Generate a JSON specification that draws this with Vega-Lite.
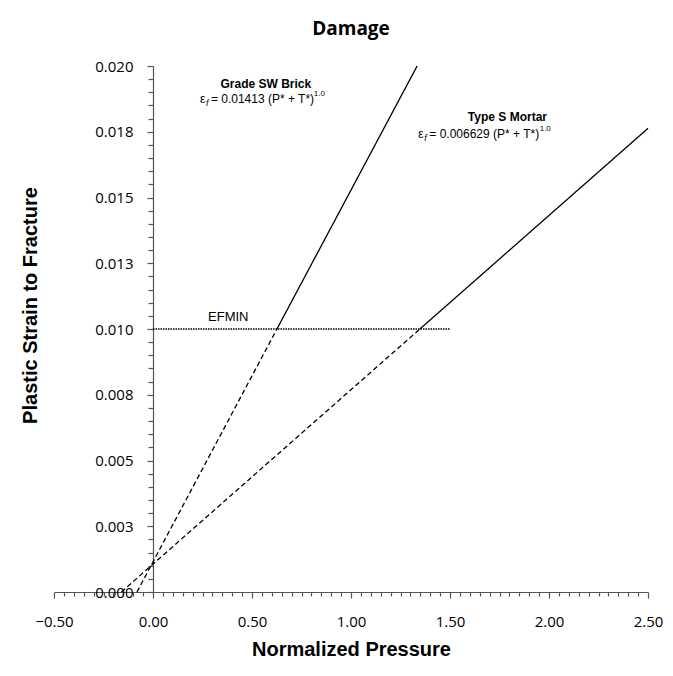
{
  "$schema": "https://vega.github.io/schema/vega-lite/v6.json",
  "width": 594,
  "height": 526,
  "autosize": {"type": "none"},
  "padding": {"left": 54, "top": 66, "right": 25, "bottom": 84},
  "background": "white",
  "config": {"view": {"stroke": null}, "font": "Liberation Sans"},
  "title": {"text": "Damage", "font": "Open Sans", "fontSize": 19, "fontWeight": "bold", "color": "black", "anchor": "middle", "offset": 20},
  "datasets": {
    "curves": [
      {"curve": "brick-ext", "segment": "extrapolated", "P": -0.081, "strain": 0},
      {"curve": "brick-ext", "segment": "extrapolated", "P": 0.626, "strain": 0.010},
      {"curve": "brick-fit", "segment": "fit", "P": 0.626, "strain": 0.010},
      {"curve": "brick-fit", "segment": "fit", "P": 1.334, "strain": 0.020},
      {"curve": "mortar-ext", "segment": "extrapolated", "P": -0.16, "strain": 0},
      {"curve": "mortar-ext", "segment": "extrapolated", "P": 1.348, "strain": 0.010},
      {"curve": "mortar-fit", "segment": "fit", "P": 1.348, "strain": 0.010},
      {"curve": "mortar-fit", "segment": "fit", "P": 2.5, "strain": 0.01763},
      {"curve": "efmin", "segment": "EFMIN", "P": 0, "strain": 0.010},
      {"curve": "efmin", "segment": "EFMIN", "P": 1.5, "strain": 0.010}
    ],
    "notes": [
      {"kind": "heading", "text": "Grade SW Brick", "P": 0.57, "strain": 0.0193},
      {"kind": "eq", "text": "= 0.01413 (P* + T*)", "P": 0.237, "strain": 0.01874},
      {"kind": "sup", "text": "1.0", "P": 0.812, "strain": 0.01874},
      {"kind": "heading", "text": "Type S Mortar", "P": 1.79, "strain": 0.01806},
      {"kind": "eq", "text": "= 0.006629 (P* + T*)", "P": 1.34, "strain": 0.0174},
      {"kind": "sup", "text": "1.0", "P": 1.953, "strain": 0.0174},
      {"kind": "efmin", "text": "EFMIN", "P": 0.38, "strain": 0.01045}
    ]
  },
  "encoding": {
    "x": {
      "field": "P", "type": "quantitative",
      "scale": {"domain": [-0.5, 2.5], "nice": false, "zero": false},
      "axis": {
        "title": "Normalized Pressure",
        "titleFont": "Liberation Sans", "titleFontSize": 20, "titleFontWeight": "bold", "titleColor": "black", "titlePadding": 10,
        "values": [-0.5,-0.45,-0.4,-0.35,-0.3,-0.25,-0.2,-0.15,-0.1,-0.05,0,0.05,0.1,0.15,0.2,0.25,0.3,0.35,0.4,0.45,0.5,0.55,0.6,0.65,0.7,0.75,0.8,0.85,0.9,0.95,1,1.05,1.1,1.15,1.2,1.25,1.3,1.35,1.4,1.45,1.5,1.55,1.6,1.65,1.7,1.75,1.8,1.85,1.9,1.95,2,2.05,2.1,2.15,2.2,2.25,2.3,2.35,2.4,2.45,2.5],
        "labelExpr": "abs(datum.value*2 - round(datum.value*2)) < 1e-6 ? format(datum.value, '.2f') : ''",
        "labelFont": "Open Sans", "labelFontSize": 15, "labelColor": "black", "labelPadding": 16,
        "labelOverlap": false, "labelFlush": false,
        "tickSize": {"condition": {"test": "abs(datum.value*2 - round(datum.value*2)) < 1e-6", "value": 6}, "value": 4},
        "tickColor": "#555", "domainColor": "#555", "domainWidth": 1.2, "tickWidth": 1.2,
        "grid": false
      }
    },
    "y": {
      "field": "strain", "type": "quantitative",
      "scale": {"domain": [0, 0.02], "nice": false, "zero": false},
      "axis": {
        "title": "Plastic Strain to Fracture",
        "titleFont": "Liberation Sans", "titleFontSize": 20, "titleFontWeight": "bold", "titleColor": "black",
        "titleX": -123, "titleY": 239, "titleAngle": 270, "titleAlign": "center", "titleBaseline": "middle",
        "offset": -99,
        "values": [0,0.0005,0.001,0.0015,0.002,0.0025,0.003,0.0035,0.004,0.0045,0.005,0.0055,0.006,0.0065,0.007,0.0075,0.008,0.0085,0.009,0.0095,0.01,0.0105,0.011,0.0115,0.012,0.0125,0.013,0.0135,0.014,0.0145,0.015,0.0155,0.016,0.0165,0.017,0.0175,0.018,0.0185,0.019,0.0195,0.02],
        "labelExpr": "abs(datum.value*400 - round(datum.value*400)) < 1e-6 ? format(datum.value + 1e-9, '.3f') : ''",
        "labelFont": "Open Sans", "labelFontSize": 15, "labelColor": "black", "labelPadding": 14,
        "labelOverlap": false, "labelFlush": false,
        "tickSize": {"condition": {"test": "abs(datum.value*400 - round(datum.value*400)) < 1e-6", "value": 6}, "value": 5},
        "tickColor": "#555", "domainColor": "#555", "domainWidth": 1.2, "tickWidth": 1.2,
        "grid": false
      }
    }
  },
  "layer": [
    {
      "data": {"name": "curves"},
      "mark": {"type": "line", "color": "black", "strokeWidth": 1.3},
      "encoding": {
        "detail": {"field": "curve", "type": "nominal"},
        "strokeDash": {
          "field": "segment", "type": "nominal",
          "scale": {"domain": ["fit", "extrapolated", "EFMIN"], "range": [[1, 0], [5, 3], [1.5, 1]]},
          "legend": null
        }
      }
    },
    {
      "data": {"name": "notes"},
      "transform": [{"filter": "datum.kind === 'heading'"}],
      "mark": {"type": "text", "font": "Liberation Sans", "fontSize": 12, "fontWeight": "bold", "color": "black", "align": "center", "baseline": "middle"},
      "encoding": {"text": {"field": "text"}}
    },
    {
      "data": {"name": "notes"},
      "transform": [{"filter": "datum.kind === 'eq'"}],
      "mark": {"type": "text", "font": "Liberation Sans", "fontSize": 12, "color": "black", "align": "left", "baseline": "middle", "dx": 11},
      "encoding": {"text": {"field": "text"}}
    },
    {
      "data": {"name": "notes"},
      "transform": [{"filter": "datum.kind === 'eq'"}],
      "mark": {"type": "text", "font": "Liberation Sans", "fontSize": 12, "color": "black", "align": "left", "baseline": "middle", "text": "ε"},
      "encoding": {}
    },
    {
      "data": {"name": "notes"},
      "transform": [{"filter": "datum.kind === 'eq'"}],
      "mark": {"type": "text", "font": "Liberation Sans", "fontSize": 9, "fontStyle": "italic", "color": "black", "align": "left", "baseline": "middle", "text": "f", "dx": 6, "dy": 4},
      "encoding": {}
    },
    {
      "data": {"name": "notes"},
      "transform": [{"filter": "datum.kind === 'sup'"}],
      "mark": {"type": "text", "font": "Liberation Sans", "fontSize": 8, "color": "black", "align": "left", "baseline": "middle", "dy": -5},
      "encoding": {"text": {"field": "text"}}
    },
    {
      "data": {"name": "notes"},
      "transform": [{"filter": "datum.kind === 'efmin'"}],
      "mark": {"type": "text", "font": "Liberation Sans", "fontSize": 13, "color": "black", "align": "center", "baseline": "middle"},
      "encoding": {"text": {"field": "text"}}
    }
  ]
}
